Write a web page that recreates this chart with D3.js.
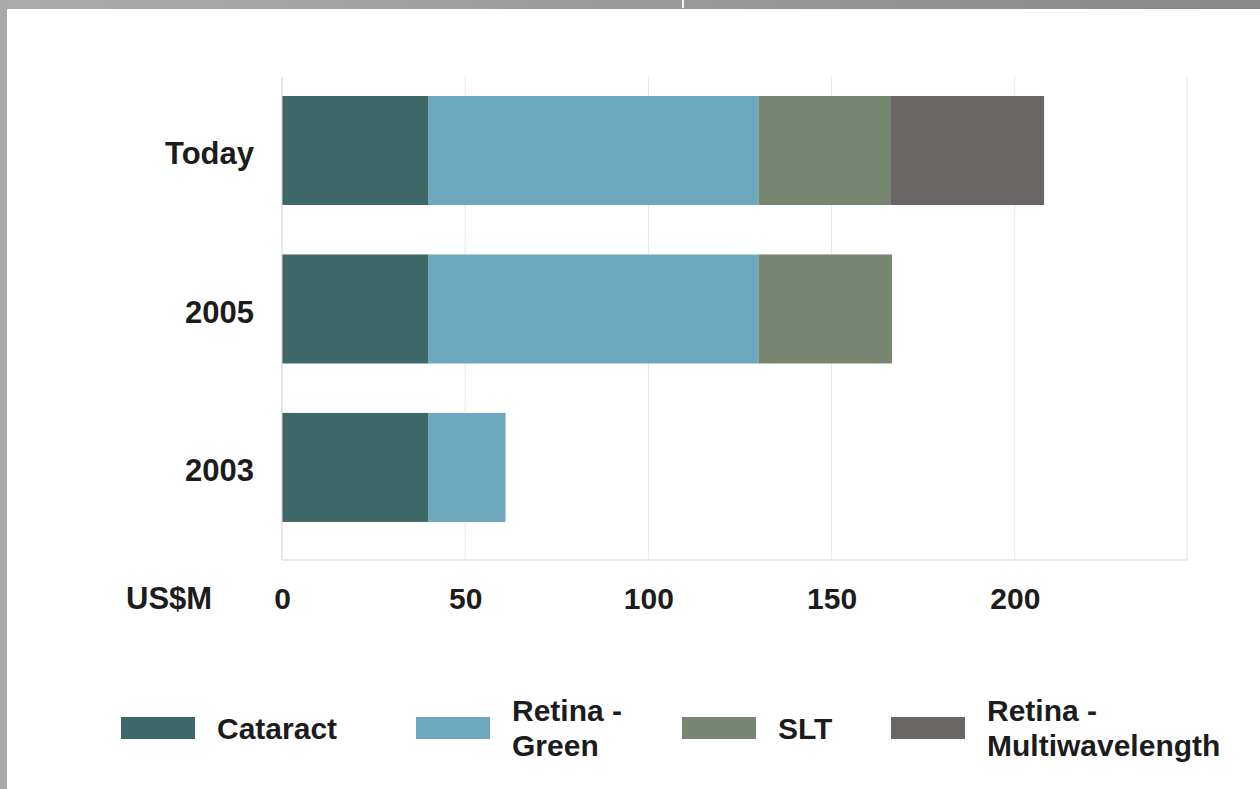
<!DOCTYPE html>
<html>
<head>
<meta charset="utf-8">
<script src="https://cdn.jsdelivr.net/npm/d3@7"></script>
<style>
  html, body { margin: 0; padding: 0; background: #fff; }
  svg { display: block; }
  text { font-family: "Liberation Sans", Arial, sans-serif; font-weight: bold; fill: #1c1c1c; }
</style>
</head>
<body>
<div id="chart"></div>
<script>
"use strict"

// Data (US$M)
const periods = ["Today", "2005", "2003"];
const segments = ["Cataract", "Retina - Green", "SLT", "Retina - Multiwavelength"];
const cataract = [40, 40, 40];
const retinaGreen = [90, 90, 21];
const slt = [36, 36.5, 0];
const retinaMulti = [42, 0, 0];
const xTicks = [0, 50, 100, 150, 200];
const legendLines = [["Cataract"], ["Retina -", "Green"], ["SLT"], ["Retina -", "Multiwavelength"]];
const colors = ["#3e6867", "#6da8bc", "#778670", "#6b6666"];

const figWidth = 1260;
const figHeight = 789;

// plot frame
const plot = {left: 282, right: 1187, top: 77, bottom: 560};

const rows = periods.map((p, i) => ({
  period: p,
  "Cataract": cataract[i],
  "Retina - Green": retinaGreen[i],
  "SLT": slt[i],
  "Retina - Multiwavelength": retinaMulti[i]
}));

const stacked = d3.stack().keys(segments)(rows);

const svg = d3.select("#chart").append("svg")
  .attr("width", figWidth)
  .attr("height", figHeight);

// grey frame strips round the picture
const grad = svg.append("defs").append("linearGradient")
  .attr("id", "topband");
grad.append("stop").attr("offset", "0%").attr("stop-color", "#acacac");
grad.append("stop").attr("offset", "100%").attr("stop-color", "#888888");

svg.append("rect")
  .attr("x", 0).attr("y", 0)
  .attr("width", figWidth).attr("height", 9)
  .attr("fill", "url(#topband)");
svg.append("rect")
  .attr("x", 0).attr("y", 0)
  .attr("width", 7).attr("height", figHeight)
  .attr("fill", "#a9a9a9");
svg.append("rect")
  .attr("x", 682).attr("y", 0)
  .attr("width", 2).attr("height", 8)
  .attr("fill", "#f4f4f4");

// Scales
const xScale = d3.scaleLinear()
  .domain([0, 247])
  .range([plot.left, plot.right]);

const yScale = d3.scaleBand()
  .domain(periods)
  .range([plot.top, plot.bottom])
  .paddingInner(0.312)
  .paddingOuter(0.18)
  .align(0.333);

// gridlines
svg.append("g")
  .selectAll("line")
  .data(xTicks.slice(1))
  .join("line")
    .attr("x1", d => xScale(d))
    .attr("x2", d => xScale(d))
    .attr("y1", plot.top)
    .attr("y2", plot.bottom)
    .attr("stroke", "#e6e6e6")
    .attr("stroke-width", 1);

// right border
svg.append("line")
  .attr("x1", plot.right).attr("x2", plot.right)
  .attr("y1", plot.top).attr("y2", plot.bottom)
  .attr("stroke", "#e3e3e3");

// Bars
svg.append("g")
  .selectAll("g")
  .data(stacked)
  .join("g")
    .attr("fill", (d, i) => colors[i])
  .selectAll("rect")
  .data(d => d)
  .join("rect")
    .attr("x", d => xScale(d[0]))
    .attr("y", d => yScale(d.data.period))
    .attr("width", d => xScale(d[1]) - xScale(d[0]))
    .attr("height", yScale.bandwidth());

// axis lines
svg.append("line")
  .attr("x1", plot.left).attr("x2", plot.left)
  .attr("y1", plot.top).attr("y2", plot.bottom)
  .attr("stroke", "#cfcfcf");
svg.append("line")
  .attr("x1", plot.left).attr("x2", plot.right)
  .attr("y1", plot.bottom).attr("y2", plot.bottom)
  .attr("stroke", "#d6d6d6");

// X axis labels
const xAxis = d3.axisBottom(xScale)
  .tickValues(xTicks)
  .tickSize(0)
  .tickPadding(0);

const xg = svg.append("g")
  .attr("transform", `translate(0, 598)`)
  .call(xAxis);
xg.select(".domain").remove();
xg.selectAll("text")
  .attr("dy", "0.35em")
  .attr("font-size", 30)
  .attr("font-family", null)
  .attr("fill", null);

svg.append("text")
  .attr("x", 126)
  .attr("y", 598)
  .attr("dy", "0.35em")
  .attr("font-size", 31)
  .text("US$M");

// Y axis labels
const yAxis = d3.axisLeft(yScale)
  .tickSize(0)
  .tickPadding(0);

const yg = svg.append("g")
  .attr("transform", `translate(254, 3)`)
  .call(yAxis);
yg.select(".domain").remove();
yg.selectAll("text")
  .attr("dy", "0.35em")
  .attr("font-size", 31)
  .attr("font-family", null)
  .attr("fill", null);

// Legend
const legendX = [121, 416, 682, 891];
const legend = svg.append("g");

const items = legend.selectAll("g")
  .data(segments)
  .join("g")
    .attr("transform", (d, i) => `translate(${legendX[i]}, 728)`);

items.append("rect")
  .attr("x", 0)
  .attr("y", -11)
  .attr("width", 74)
  .attr("height", 22)
  .attr("fill", (d, i) => colors[i]);

items.append("text")
  .attr("x", 96)
  .attr("font-size", 30)
  .each(function(d, i) {
    const lines = legendLines[i];
    const t = d3.select(this);
    lines.forEach((line, j) => {
      t.append("tspan")
        .attr("x", 96)
        .attr("y", (j - (lines.length - 1) / 2) * 35)
        .attr("dy", "0.35em")
        .text(line);
    });
  });
</script>
</body>
</html>
